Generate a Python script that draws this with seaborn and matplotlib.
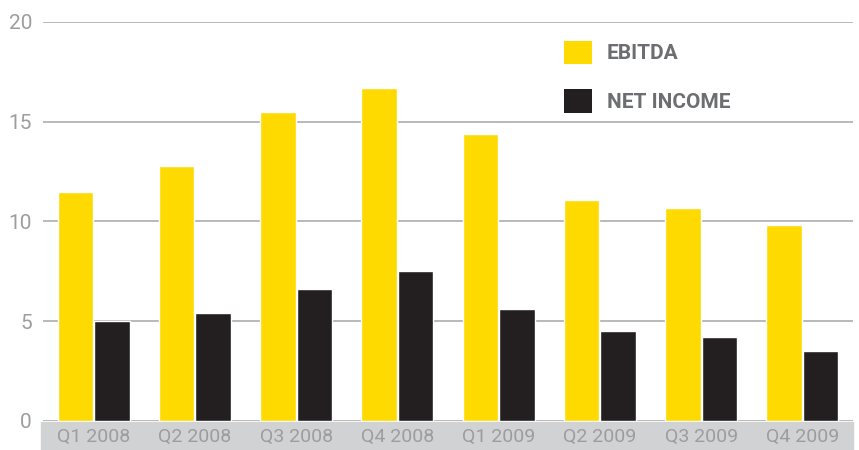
import pandas as pd
import seaborn as sns
import matplotlib.pyplot as plt
from matplotlib.patches import Rectangle, Patch

quarters = ['Q1 2008', 'Q2 2008', 'Q3 2008', 'Q4 2008',
            'Q1 2009', 'Q2 2009', 'Q3 2009', 'Q4 2009']
ebitda = [11.5, 12.8, 15.5, 16.7, 14.4, 11.1, 10.7, 9.8]
net_income = [5.0, 5.4, 6.6, 7.5, 5.6, 4.5, 4.2, 3.5]
series_names = ['EBITDA', 'NET INCOME']
colors = ['#FFDA00', '#231F20']

df = pd.DataFrame({'Quarter': quarters, 'EBITDA': ebitda, 'NET INCOME': net_income})
long_df = df.melt(id_vars='Quarter', var_name='Series', value_name='Value')

sns.set_style('white')
plt.rcParams['font.family'] = ['Roboto', 'DejaVu Sans']

fig = plt.figure(figsize=(8.59, 4.5), dpi=100)
ax = fig.add_axes([43 / 859, 1 - 421 / 450, 810 / 859, 399 / 450])
ax.set_zorder(2)
ax.patch.set_alpha(0)

# grey band behind the x tick labels
fig.patches.append(Rectangle((41 / 859, 0), 812 / 859, 28 / 450,
                             transform=fig.transFigure, color='#d1d2d4', zorder=0))

sns.barplot(data=long_df, x='Quarter', y='Value', hue='Series', order=quarters,
            hue_order=series_names, palette=colors, width=0.72, gap=0.03,
            saturation=1, legend=False, ax=ax, zorder=3)

ax.set_ylim(0, 20)
ax.set_yticks([0, 5, 10, 15, 20])
ax.set_xlim(-0.5, len(quarters) - 0.5)
ax.yaxis.grid(True, color='#b3b3b3', linewidth=1.3, zorder=0)
ax.set_axisbelow(True)
for s in ax.spines.values():
    s.set_visible(False)
ax.set_xlabel('')
ax.set_ylabel('')
ax.tick_params(axis='y', length=0, pad=8, labelsize=15, labelcolor='#9d9d9d')
ax.tick_params(axis='x', length=0, pad=5, labelsize=14, labelcolor='#9d9d9d')

handles = [Patch(facecolor=c, edgecolor='none') for c in colors]
leg = ax.legend(handles, series_names, loc='upper left', bbox_to_anchor=(0.62, 1.0),
                frameon=False, handlelength=1.35, handleheight=1.35, handletextpad=0.7,
                labelspacing=1.2, prop={'size': 15, 'weight': 'bold'})
for t in leg.get_texts():
    t.set_color('#6d6e71')

fig.savefig('out.png', dpi=100)
